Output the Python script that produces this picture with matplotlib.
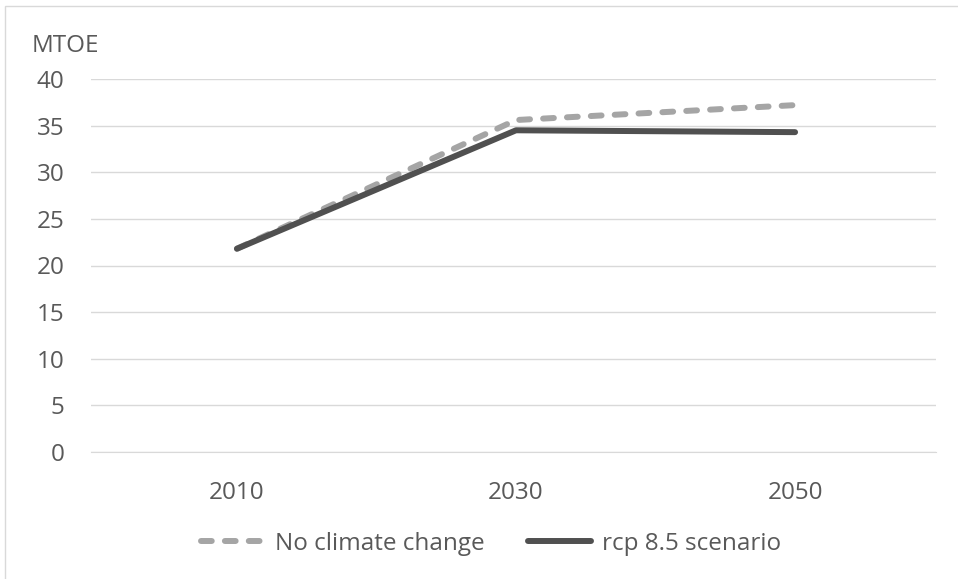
import matplotlib.pyplot as plt
import matplotlib
from matplotlib.patches import Rectangle

matplotlib.rcParams.update({'font.family': ['Open Sans', 'DejaVu Sans']})

# donnees
annees = ["2010", "2030", "2050"]
sans_changement = [21.8, 35.6, 37.2]
rcp85 = [21.8, 34.5, 34.3]
graduations_y = [0, 5, 10, 15, 20, 25, 30, 35, 40]

gris_texte = "#595959"
gris_grille = "#D9D9D9"
taille = 17.5

fig = plt.figure(figsize=(9.58, 5.79), dpi=100)
ax = fig.add_axes([91 / 958, 1 - 452 / 579, 845 / 958, 373 / 579])

x = range(len(annees))
ax.plot(x, sans_changement, color="#A5A5A5", lw=4.3, dash_capstyle="round",
        solid_capstyle="round", dashes=(1.8, 2.2), label="No climate change")
ax.plot(x, rcp85, color="#505050", lw=4.3, solid_capstyle="round",
        label="rcp 8.5 scenario")

ax.set_xlim(-0.523, 2.505)
ax.set_ylim(0, 40)
ax.set_yticks(graduations_y)
ax.set_xticks(list(x))
ax.set_xticklabels(annees)
ax.grid(axis="y", color=gris_grille, lw=1)
ax.set_axisbelow(True)
for s in ["top", "right", "left"]:
    ax.spines[s].set_visible(False)
ax.spines["bottom"].set_color(gris_grille)
ax.tick_params(length=0, colors=gris_texte, labelsize=taille)
ax.tick_params(axis="x", pad=21)
ax.tick_params(axis="y", pad=19)

fig.text(32 / 958, 1 - 46 / 579, "MTOE", color=gris_texte, fontsize=taille, va="center")

leg = fig.legend(loc="center", bbox_to_anchor=(491 / 958, 1 - 544 / 579), ncol=2,
                 frameon=False, fontsize=taille, handlelength=2.6, columnspacing=1.8,
                 handletextpad=0.45)
for t in leg.get_texts():
    t.set_color(gris_texte)

fig.patches.append(Rectangle((4.5 / 958, -0.1), 1.1, 1.1 - 6 / 579, transform=fig.transFigure,
                             fill=False, edgecolor=gris_grille, lw=1))

plt.savefig("out.png", dpi=100)
